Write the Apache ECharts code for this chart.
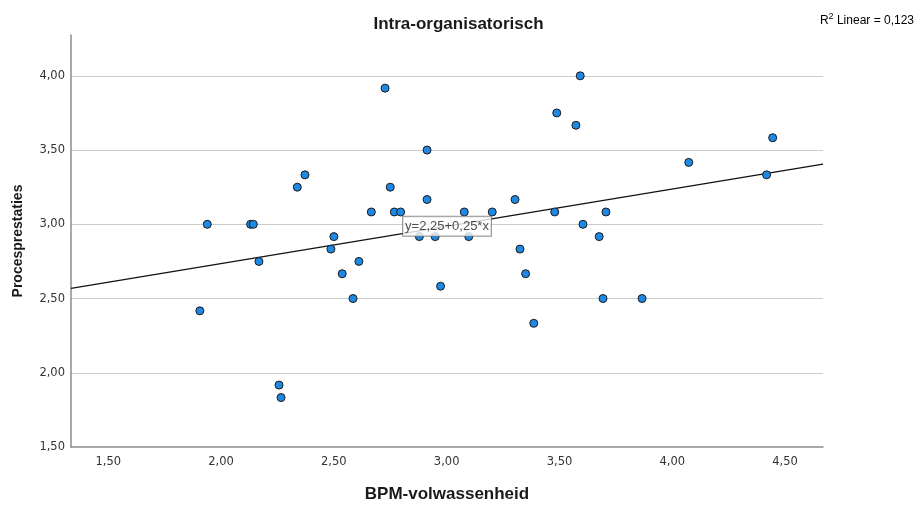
<!DOCTYPE html>
<html>
<head>
<meta charset="utf-8">
<script src="https://cdn.jsdelivr.net/npm/echarts@6/dist/echarts.min.js"></script>
<style>
html,body{margin:0;padding:0;background:#fff;}
#chart{width:917px;height:508px;}
</style>
</head>
<body>
<div id="chart"></div>
<script>
// ---- data ----
const chartTitle = 'Intra-organisatorisch';
const xAxisName = 'BPM-volwassenheid';
const yAxisName = 'Procesprestaties';
const bpmValues = [1.906,1.939,2.131,2.143,2.168,2.257,2.266,2.338,2.372,2.487,2.500,2.537,2.585,2.611,2.666,2.727,2.750,2.768,2.796,2.879,2.913,2.913,2.949,2.973,3.078,3.098,3.202,3.303,3.325,3.350,3.386,3.479,3.488,3.573,3.592,3.604,3.676,3.693,3.706,3.866,4.073,4.418,4.445];
const procesValues = [2.417,3.000,3.000,3.000,2.750,1.917,1.833,3.250,3.333,2.833,2.917,2.667,2.500,2.750,3.083,3.917,3.250,3.083,3.083,2.917,3.500,3.167,2.917,2.583,3.083,2.917,3.083,3.167,2.833,2.667,2.333,3.083,3.750,3.667,4.000,3.000,2.917,2.500,3.083,2.500,3.417,3.333,3.583];
const xTickValues = [1.5,2.0,2.5,3.0,3.5,4.0,4.5];
const xRange = [1.335, 4.668];
const yRange = [1.5, 4.275];
const fitIntercept = 2.233;
const fitSlope = 0.251;
const fitLabel = 'y=2,25+0,25*x';
const r2Text = ' Linear = 0,123';

// ---- build ----
const points = bpmValues.map((x, i) => [x, procesValues[i]]);
const fitLine = xRange.map(x => [x, fitIntercept + fitSlope * x]);
const xMid = (xRange[0] + xRange[1]) / 2;
const fitLabelPoint = [[xMid, fitIntercept + fitSlope * xMid]];
const fmt = v => v.toFixed(2).replace('.', ',');
const FONT = 'Arial, "Liberation Sans", sans-serif';
const TICKFONT = '"DejaVu Sans", sans-serif';

const chart = echarts.init(document.getElementById('chart'), null, {renderer: 'canvas'});
chart.setOption({
  backgroundColor: '#ffffff',
  animation: false,
  title: {
    text: chartTitle,
    left: 'center',
    top: 11,
    textStyle: {fontFamily: FONT, fontSize: 17, fontWeight: 'bold', color: '#1a1a1a'}
  },
  graphic: [{
    type: 'text',
    right: 3,
    top: 12,
    style: {
      text: '{a|R}{s|2}{a|' + r2Text + '}',
      rich: {
        a: {fontFamily: FONT, fontSize: 12, color: '#222', verticalAlign: 'bottom', lineHeight: 15},
        s: {fontFamily: FONT, fontSize: 9, color: '#222', verticalAlign: 'top', lineHeight: 15, padding: [0,0,7,0]}
      }
    }
  }],
  grid: {left: 71, right: 94, top: 35, bottom: 53, containLabel: false},
  xAxis: {
    type: 'value',
    min: xRange[0],
    max: xRange[1],
    name: xAxisName,
    nameLocation: 'middle',
    nameGap: 39,
    nameTextStyle: {fontFamily: FONT, fontSize: 17, fontWeight: 'bold', color: '#1a1a1a'},
    axisLine: {show: true, lineStyle: {color: '#8c8c8c', width: 1.5}},
    axisTick: {show: false},
    splitLine: {show: false},
    axisLabel: {
      customValues: xTickValues,
      formatter: fmt,
      margin: 9,
      fontFamily: TICKFONT, fontSize: 11.5, color: '#333'
    }
  },
  yAxis: {
    type: 'value',
    min: yRange[0],
    max: yRange[1],
    interval: 0.5,
    name: yAxisName,
    nameLocation: 'middle',
    nameGap: 46,
    nameTextStyle: {fontFamily: FONT, fontSize: 14, fontWeight: 'bold', color: '#1a1a1a'},
    axisLine: {show: true, lineStyle: {color: '#8c8c8c', width: 1.5}},
    axisTick: {show: false},
    splitLine: {show: true, showMinLine: false, showMaxLine: false, lineStyle: {color: '#cccccc', width: 1}},
    axisLabel: {
      formatter: fmt,
      showMaxLabel: false,
      margin: 6,
      fontFamily: TICKFONT, fontSize: 11.5, color: '#333'
    }
  },
  series: [
    {
      type: 'line',
      data: fitLine,
      symbol: 'none',
      lineStyle: {color: '#111', width: 1.2},
      silent: true,
      z: 2
    },
    {
      type: 'scatter',
      data: points,
      symbol: 'circle',
      symbolSize: 8,
      itemStyle: {color: '#1e88e5', borderColor: '#1a1a1a', borderWidth: 1, opacity: 1},
      z: 3
    },
    {
      type: 'scatter',
      data: fitLabelPoint,
      symbolSize: 0,
      silent: true,
      z: 10,
      label: {
        show: true,
        position: 'inside',
        formatter: fitLabel,
        fontFamily: FONT,
        fontSize: 13,
        color: '#222',
        backgroundColor: '#ffffff',
        borderColor: '#777',
        borderWidth: 1,
        padding: [3, 2, 3, 2]
      }
    }
  ]
});
</script>
</body>
</html>
